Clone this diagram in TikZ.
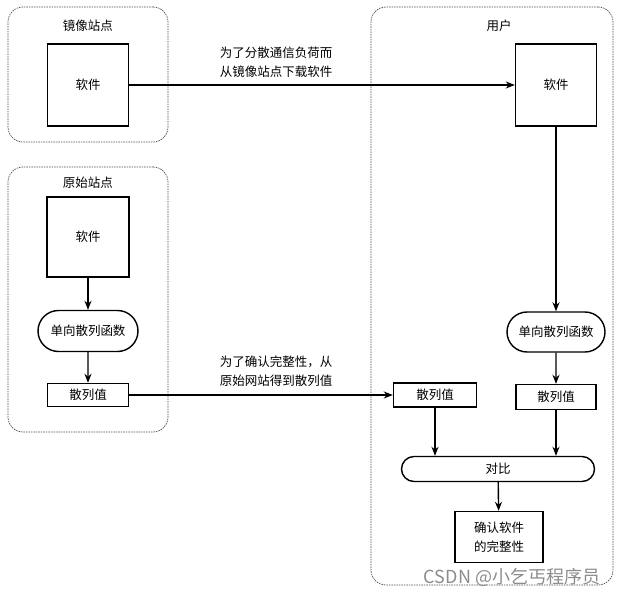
\documentclass[tikz,border=0pt]{standalone}
\usepackage{fontspec}
\setmainfont{Noto Sans CJK SC}
\usetikzlibrary{shapes, positioning, arrows.meta}

\tikzset{
  site/.style={draw=black!70, dash pattern=on 1.5pt off 1pt, line width=0.7pt, rounded corners=15pt},
  box/.style={draw, line width=1.4pt, inner sep=0pt},
  pill/.style={rounded rectangle, draw, line width=1.4pt, inner sep=0pt},
}

\begin{document}
\begin{tikzpicture}[x=1pt, y=-1pt, >={Stealth[length=9pt, width=7pt]}, line width=1.4pt,
    font=\fontsize{12.5}{19}\selectfont]
        \useasboundingbox (0,0) rectangle (622,594);

        % containers
        \node[site, minimum width=160pt, minimum height=135pt] (mirror) at (88,74.5) {};
        \node[site, minimum width=160pt, minimum height=265pt] (orig) at (88,299.5) {};
        \node[site, minimum width=242pt, minimum height=578pt] (user) at (492,296) {};
        \node (mirrorlbl) at (88,26) {镜像站点};
        \node (origlbl) at (88,183) {原始站点};
        \node (userlbl) at (499,26) {用户};

        % mirror site and original site
        \node[box, minimum width=81pt, minimum height=82pt] (mirrorsw) at (88,85) {软件};
        \node[box, minimum width=82pt, minimum height=80pt] (origsw) at (88,237) {软件};
        \node[pill, minimum width=100pt, minimum height=41pt] (funcA) at (88,331) {单向散列函数};
        \node[box, minimum width=81pt, minimum height=23pt] (hashA) at (88,395) {散列值};

        % user
        \node[box, minimum width=81pt, minimum height=82pt] (usersw) at (556,85) {软件};
        \node[pill, minimum width=98pt, minimum height=40pt] (funcB) at (556,332) {单向散列函数};
        \node[box, minimum width=80pt, minimum height=25pt] (hashB) at (556,397) {散列值};
        \node[box, minimum width=83pt, minimum height=24pt] (hashC) at (435,395) {散列值};
        \node[pill, minimum width=193pt, minimum height=25pt] (cmp) at (498,469) {对比};
        \node[box, minimum width=88pt, minimum height=51pt, align=center] (result) at (499,537) {确认软件\\的完整性};

        % edge labels
        \node[align=left] (dlnote) at (276,62) {为了分散通信负荷而\\从镜像站点下载软件};
        \node[align=left] (hashnote) at (276,371) {为了确认完整性，从\\原始网站得到散列值};

        \draw[->] (mirrorsw) -- (usersw);
        \draw[->] (origsw) -- (funcA);
        \draw[->] (funcA) -- (hashA);
        \draw[->] (hashA) -- (hashC);
        \draw[->] (usersw) -- (funcB);
        \draw[->] (funcB) -- (hashB);
        \draw[->] (hashC) -- (hashC |- cmp.north);
        \draw[->] (hashB) -- (hashB |- cmp.north);
        \draw[->] (cmp) -- (result);

        \node[text=black!45, font=\fontsize{18}{18}\selectfont] (mark) at (512,577) {CSDN @小乞丐程序员};
      \end{tikzpicture}
\end{document}
